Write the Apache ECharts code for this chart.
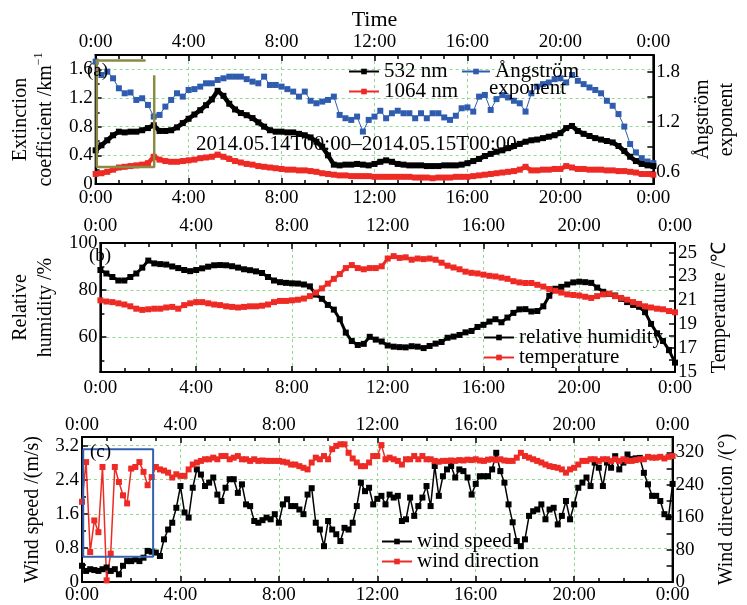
<!DOCTYPE html>
<html>
<head>
<meta charset="utf-8">
<script src="https://cdn.jsdelivr.net/npm/echarts@6/dist/echarts.min.js"></script>
<style>
  html, body { margin: 0; background: #fff; }
  #chart { width: 747px; height: 605px; }
</style>
</head>
<body>
<div id="chart"></div>
<script>
/* time grids (hours) */
var t15 = []
for (var i = 0; i <= 96; i++) t15.push(i / 4)
var t10 = []
for (var j = 0; j <= 144; j++) t10.push(j / 6)

/* (a) extinction coefficient, km^-1, every 15 min */
var ext532 = [0.47, 0.54, 0.61, 0.68, 0.73, 0.72, 0.73, 0.73, 0.75, 0.78, 0.82, 0.74, 0.74, 0.75, 0.79, 0.85, 0.91, 0.97, 1.03, 1.10, 1.18,
  1.30, 1.23, 1.12, 1.04, 0.99, 0.96, 0.92, 0.86, 0.80, 0.75, 0.73, 0.73, 0.72, 0.72, 0.70, 0.68, 0.65, 0.59, 0.52, 0.40, 0.27, 0.26, 0.27, 0.27, 0.28, 0.27, 0.26, 0.28,
  0.31, 0.33, 0.31, 0.28, 0.27, 0.26, 0.26, 0.26, 0.25, 0.25, 0.25, 0.26, 0.26, 0.26, 0.27, 0.29, 0.32, 0.35, 0.39, 0.42, 0.45, 0.47, 0.50, 0.53,
  0.56, 0.59, 0.61, 0.62, 0.64, 0.66, 0.68, 0.71, 0.78, 0.81, 0.74, 0.70, 0.67, 0.64, 0.62, 0.60, 0.58, 0.53, 0.46, 0.38, 0.32, 0.28, 0.26, 0.25]
var ext1064 = [0.14, 0.15, 0.17, 0.20, 0.23, 0.24, 0.25, 0.26, 0.27, 0.29, 0.38, 0.34, 0.32, 0.31, 0.31, 0.32, 0.33, 0.34, 0.36, 0.37, 0.38, 0.41,
  0.38, 0.35, 0.32, 0.30, 0.28, 0.27, 0.25, 0.24, 0.23, 0.22, 0.21, 0.20, 0.20, 0.19, 0.19, 0.18, 0.17, 0.15, 0.14, 0.13, 0.12, 0.12, 0.11, 0.11, 0.11, 0.11, 0.10,
  0.10, 0.10, 0.10, 0.10, 0.10, 0.10, 0.09, 0.09, 0.09, 0.08, 0.09, 0.09, 0.09, 0.10, 0.10, 0.10, 0.11, 0.12, 0.13, 0.14, 0.15, 0.16, 0.17, 0.18,
  0.20, 0.24, 0.19, 0.19, 0.20, 0.20, 0.21, 0.21, 0.25, 0.23, 0.21, 0.21, 0.20, 0.20, 0.20, 0.19, 0.19, 0.18, 0.18, 0.17, 0.16, 0.14, 0.14, 0.13]
var angstrom = [1.92, 1.76, 1.80, 1.72, 1.60, 1.54, 1.55, 1.46, 1.48, 1.40, 1.26, 1.28, 1.38, 1.46, 1.54, 1.50, 1.58, 1.59, 1.62, 1.66, 1.66, 1.70,
  1.72, 1.74, 1.74, 1.74, 1.71, 1.68, 1.66, 1.74, 1.64, 1.64, 1.62, 1.59, 1.56, 1.50, 1.56, 1.45, 1.42, 1.44, 1.46, 1.50, 1.28, 1.24, 1.22, 1.26, 1.08, 1.22, 1.26,
  1.33, 1.24, 1.30, 1.33, 1.30, 1.30, 1.24, 1.30, 1.24, 1.30, 1.30, 1.25, 1.22, 1.27, 1.36, 1.37, 1.32, 1.50, 1.52, 1.34, 1.47, 1.52, 1.49, 1.45,
  1.42, 1.32, 1.54, 1.62, 1.65, 1.67, 1.71, 1.72, 1.67, 1.76, 1.69, 1.65, 1.61, 1.58, 1.54, 1.45, 1.39, 1.29, 1.14, 0.93, 0.83, 0.76, 0.72, 0.70]

/* (b) relative humidity %, temperature degC, every 15 min */
var humidity = [88.5, 87, 85.5, 84, 84, 85.5, 87, 89.5, 92.5, 91.3, 91, 90.8, 90, 89.3, 88.5, 88, 88.5, 89.2, 89.9, 90.5, 90.6, 90.5, 90.1, 89.5,
  88.8, 88.4, 87.9, 87.2, 85.5, 84, 83.3, 83, 82.8, 82.7, 82.3, 81.5, 78, 76.2, 73.6, 71.6, 67.5, 61.8, 58.2, 56.5, 57, 60, 58.8, 58, 56.3,
  55.8, 55.6, 55.5, 56, 55.8, 55.2, 56.1, 57.1, 57.8, 59.6, 60.1, 60.8, 61.9, 62.5, 64.2, 65.1, 66.5, 67.5, 66.2, 68.2, 70.2, 71.7, 71.8, 70.8,
  71, 73, 77.5, 80.5, 81.3, 82.3, 83.2, 83.5, 83.3, 83, 81, 79.2, 78.3, 77.6, 76.2, 74.8, 73.6, 72.8, 70.5, 65.5, 61.5, 58.2, 54.3, 49]
var temperature = [21.0, 20.9, 20.85, 20.75, 20.65, 20.5, 20.3, 20.2, 20.25, 20.3, 20.3, 20.4, 20.45, 20.3, 20.6, 20.75, 20.85, 20.85, 20.75,
  20.65, 20.6, 20.5, 20.45, 20.4, 20.45, 20.5, 20.5, 20.55, 20.65, 20.85, 20.95, 20.95, 21.0, 21.05, 21.15, 21.35, 21.65, 22.0, 22.4, 22.8,
  23.2, 23.7, 23.95, 23.7, 23.6, 23.7, 23.7, 23.85, 24.5,
  24.7, 24.55, 24.6, 24.4, 24.5, 24.45, 24.5, 24.4, 24.15, 23.9, 23.75, 23.6, 23.4, 23.3, 23.25, 23.15, 23.05, 23.0, 22.9, 22.8, 22.6, 22.5,
  22.45, 22.45, 22.3, 22.15, 21.95, 21.8, 21.65, 21.5, 21.45, 21.4, 21.3, 21.2, 21.35, 21.5, 21.55, 21.35, 21.2, 21.05, 20.85, 20.7, 20.5,
  20.4, 20.3, 20.25, 20.1, 20.0]

/* (c) wind speed m/s, wind direction deg, every 10 min */
var windSpeed = [0.38, 0.26, 0.30, 0.28, 0.26, 0.30, 0.34, 0.26, 0.30, 0.18, 0.38, 0.49, 0.49, 0.53, 0.49, 0.57, 0.73, 0.71, 0.69, 0.61,
  1.00, 1.23, 1.39, 1.74, 2.25, 1.63, 1.51, 2.21, 2.64, 2.52, 2.25, 2.33, 2.45, 2.05, 1.90, 2.21, 2.41, 2.41, 2.09, 2.29,
  1.82, 1.78, 1.43, 1.39, 1.45, 1.51, 1.47, 1.59, 1.39, 1.82, 1.94, 1.78, 1.78, 1.70, 1.59, 2.05, 2.20, 1.39, 1.23, 0.84,
  1.43, 1.23, 1.12, 0.96, 1.27, 1.23, 1.39, 1.78, 2.33, 2.13, 2.21, 1.82,
  1.95, 2.02, 1.82, 2.05, 1.98, 2.02, 1.43, 1.47, 1.98, 1.55, 1.78, 1.98, 2.25, 1.78, 2.72, 2.02, 2.48, 2.64, 2.72, 2.45,
  2.64, 2.60, 2.45, 2.05, 2.30, 2.48, 2.48, 2.48, 2.64, 3.03, 2.60, 2.33, 1.82, 1.40, 0.96, 0.84, 1.00, 1.55, 1.66, 1.70,
  1.82, 1.47, 1.70, 1.74, 1.35, 1.55, 1.90, 1.47, 1.82, 2.21, 2.33, 2.45, 2.25, 2.80, 2.68, 2.25, 2.80, 2.68, 2.95, 2.64,
  2.80, 2.99, 2.88, 2.90, 2.91, 2.56, 2.29, 2.02, 2.02, 1.90, 1.59, 1.52, 2.30]
var windDir = [198, 296, 74, 152, 123, 284, 4, 70, 284, 247, 214, 194, 280, 284, 296, 272, 239, 259, 284, 278,
  275, 270, 258, 266, 262, 262, 278, 290, 295, 299, 303, 303, 307, 303, 311, 311, 303, 307, 311, 303,
  303, 299, 303, 299, 300, 299, 299, 299, 299, 297, 295, 290, 290, 286, 282, 278, 295, 307, 303, 311,
  303, 328, 336, 340, 340, 319, 305, 295, 286, 286, 295, 311,
  311, 338, 303, 307, 303, 299, 290, 303, 303, 311, 303, 311, 303, 303, 299, 297, 299, 299, 300, 299,
  301, 300, 302, 301, 303, 300, 299, 302, 303, 301, 303, 300, 299, 299, 307, 319, 311, 307, 303, 299,
  295, 290, 286, 284, 282, 278, 270, 278, 282, 290, 299, 299, 303, 303, 299, 303, 303, 299, 303, 299,
  303, 299, 299, 301, 303, 303, 309, 307, 307, 309, 305, 309, 311]

/* marked boxes, in data units [hour, value] */
var boxA = [[2.15, 1.725], [0.05, 1.725], [0.05, 0.237], [2.52, 0.237], [2.52, 1.516]]
var boxC = [[0.05, 3.11], [2.89, 3.11], [2.89, 0.59], [0.05, 0.59], [0.05, 3.11]]

var FONT = 'Liberation Serif'
var RED = '#ee2a24'
var BLUE = '#2f5cae'
var GREEN = '#93d993'

function pairs (t, v) {
  return v.map(function (y, i) { return [t[i], y] })
}

function xAxis (grid, pos, margin, extra) {
  return Object.assign({
    type: 'value', gridIndex: grid, position: pos, min: 0, max: 24, interval: 4,
    axisLine: {show: true, onZero: false, lineStyle: {color: '#000', width: 2}},
    axisTick: {inside: true, length: 6, lineStyle: {color: '#000', width: 1.5}},
    minorTick: {show: true, splitNumber: 4, length: 4, lineStyle: {color: '#000', width: 1.5}},
    axisLabel: {margin: margin, fontFamily: FONT, fontSize: 19, color: '#000',
      formatter: function (v) { return (v % 24) + ':00' }},
    splitLine: {show: pos === 'bottom', lineStyle: {color: GREEN, type: [3, 3], width: 1}}
  }, extra || {})
}

function yAxis (grid, pos, min, max, labels, ticks, name, nameGap, lineHeight, grid2) {
  return {
    type: 'value', gridIndex: grid, position: pos, min: min, max: max,
    axisLine: {show: true, onZero: false, lineStyle: {color: '#000', width: 2}},
    axisTick: {inside: true, length: 6, customValues: ticks, lineStyle: {color: '#000', width: 1.5}},
    axisLabel: {margin: 3, customValues: labels, fontFamily: FONT, fontSize: 19, color: '#000'},
    splitLine: {show: !!grid2, lineStyle: {color: GREEN, type: [3, 3], width: 1}},
    name: name, nameLocation: 'middle', nameGap: nameGap, nameRotate: 90,
    nameTextStyle: {fontFamily: FONT, fontSize: 20, color: '#000', lineHeight: lineHeight,
      rich: {sup: {fontFamily: FONT, fontSize: 12, color: '#000', verticalAlign: 'top', lineHeight: lineHeight}}}
  }
}

function minorY (grid, min, max, ticks) {
  return {
    type: 'value', gridIndex: grid, position: 'left', min: min, max: max,
    axisLine: {show: false}, axisLabel: {show: false}, splitLine: {show: false},
    axisTick: {inside: true, length: 4, customValues: ticks, lineStyle: {color: '#000', width: 1.5}}
  }
}

function line (name, x, y, data, color, width, size, z) {
  return {
    name: name, type: 'line', xAxisIndex: x, yAxisIndex: y, data: data,
    symbol: 'rect', symbolSize: size, z: z,
    itemStyle: {color: color}, lineStyle: {color: color, width: width}
  }
}

var legendText = {fontFamily: FONT, fontSize: 21, color: '#000'}

var chart = echarts.init(document.getElementById('chart'))
chart.setOption({
  animation: false,
  backgroundColor: '#fff',
  grid: [
    {left: 82, width: 593, top: 55, height: 129, show: true, borderColor: '#000', borderWidth: 2},
    {left: 82, width: 593, top: 243, height: 129, show: true, borderColor: '#000', borderWidth: 2},
    {left: 82, width: 593, top: 437, height: 145, show: true, borderColor: '#000', borderWidth: 2}
  ],
  xAxis: [
    xAxis(0, 'bottom', 5),
    xAxis(0, 'top', 3, {name: 'Time', nameLocation: 'middle', nameGap: 21,
      nameTextStyle: {fontFamily: FONT, fontSize: 22, color: '#000', lineHeight: 24}}),
    xAxis(1, 'bottom', 7),
    xAxis(1, 'top', 7),
    xAxis(2, 'bottom', 4),
    xAxis(2, 'top', 2)
  ],
  yAxis: [
    yAxis(0, 'left', 0, 1.8, [0, 0.4, 0.8, 1.2, 1.6], [0, 0.4, 0.8, 1.2, 1.6],
      'Extinction\ncoefficient /km{sup|−1}', 25, 25, true),
    yAxis(0, 'right', 0.45, 2.0, [0.6, 1.2, 1.8], [0.6, 0.9, 1.2, 1.5, 1.8],
      'Ångström\nexponent', 30, 24, false),
    minorY(0, 0, 1.8, [0.2, 0.6, 1.0, 1.4]),
    yAxis(1, 'left', 45, 100, [60, 80, 100], [60, 80, 100],
      'Relative\nhumidity /%', 26, 25, true),
    yAxis(1, 'right', 15, 25.8, [15, 17, 19, 21, 23, 25], [16, 17, 18, 19, 20, 21, 22, 23, 24, 25],
      'Temperature /℃', 27, 24, false),
    minorY(1, 45, 100, [50, 70, 90]),
    yAxis(2, 'left', 0, 3.4, [0, 0.8, 1.6, 2.4, 3.2], [0, 0.8, 1.6, 2.4, 3.2],
      'Wind speed /(m/s)', 29, 24, true),
    yAxis(2, 'right', 0, 358, [0, 80, 160, 240, 320], [40, 80, 120, 160, 200, 240, 280, 320],
      'Wind direction /(°)', 32, 24, false),
    minorY(2, 0, 3.4, [0.4, 1.2, 2.0, 2.8])
  ],
  legend: [
    {left: 343, top: 56, orient: 'vertical', itemGap: -1, itemWidth: 30, itemHeight: 7,
      selectedMode: false, textStyle: legendText, data: ['532 nm', '1064 nm']},
    {left: 456, top: 56, orient: 'vertical', itemWidth: 28, itemHeight: 7, selectedMode: false,
      textStyle: legendText, data: ['Ångström exponent'],
      formatter: function () { return 'Ångström' }},
    {left: 478, top: 322, orient: 'vertical', itemGap: -1, itemWidth: 30, itemHeight: 7,
      selectedMode: false, textStyle: legendText, data: ['relative humidity', 'temperature']},
    {left: 376, top: 526, orient: 'vertical', itemGap: -1, itemWidth: 30, itemHeight: 7,
      selectedMode: false, textStyle: legendText, data: ['wind speed', 'wind direction']}
  ],
  graphic: [
    {type: 'text', left: 87, top: 62, z: 10, style: {text: '(a)', font: '19px "Liberation Serif"', fill: '#000'}},
    {type: 'text', left: 89, top: 247, z: 10, style: {text: '(b)', font: '19px "Liberation Serif"', fill: '#000'}},
    {type: 'text', left: 90, top: 443, z: 10, style: {text: '(c)', font: '19px "Liberation Serif"', fill: '#000'}},
    {type: 'text', left: 196, top: 134, z: 10,
      style: {text: '2014.05.14T00:00–2014.05.15T00:00', font: '21px "Liberation Serif"', fill: '#000'}},
    {type: 'text', left: 489, top: 78, z: 10, style: {text: 'exponent', font: '21px "Liberation Serif"', fill: '#000'}}
  ],
  series: [
    line('Ångström exponent', 0, 1, pairs(t15, angstrom), BLUE, 1, 6, 3),
    line('532 nm', 0, 0, pairs(t15, ext532), '#000', 4.5, 6, 4),
    line('1064 nm', 0, 0, pairs(t15, ext1064), RED, 4.5, 6, 4),
    {type: 'line', xAxisIndex: 0, yAxisIndex: 0, data: boxA, symbol: 'none', silent: true, z: 5,
      lineStyle: {color: '#8c8a45', width: 2.5}},
    line('relative humidity', 2, 3, pairs(t15, humidity), '#000', 3, 6, 4),
    line('temperature', 2, 4, pairs(t15, temperature), RED, 3, 6, 4),
    line('wind speed', 4, 6, pairs(t10, windSpeed), '#000', 1.5, 6, 4),
    line('wind direction', 4, 7, pairs(t10, windDir), RED, 1.5, 6, 4),
    {type: 'line', xAxisIndex: 4, yAxisIndex: 6, data: boxC, symbol: 'none', silent: true, z: 5,
      lineStyle: {color: '#3460b0', width: 2}}
  ]
})
</script>
</body>
</html>
